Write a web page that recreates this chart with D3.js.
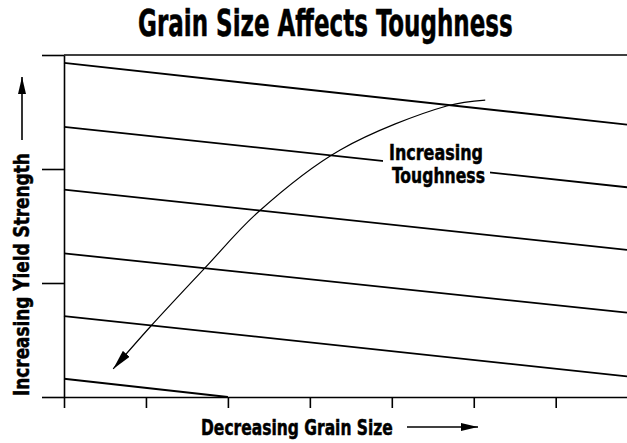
<!DOCTYPE html>
<meta charset="utf-8">
<script src="https://cdn.jsdelivr.net/npm/d3@7"></script>
<style>
body { margin: 0; background: #fff; }
text {
  font-family: "Liberation Sans Narrow", "DejaVu Sans Condensed", "Arial Narrow", sans-serif;
  font-weight: bold;
  fill: #000;
  stroke: #000;
  stroke-width: 0.5px;
}
.axis path, .axis line { stroke: #000; stroke-width: 1.6px; }
path.grain { fill: none; stroke: #000; stroke-width: 1.8px; }
</style>
<body>
<script>

// grain size lines (x in grain-size units, y in strength units)
var lineStart = [2.93, 2.37, 1.82, 1.26, 0.71, 0.16];
var lineEnd = [2.39, 1.84, 1.29, 0.74, 0.18, 0.0];
var lineEndX = [6.87, 6.87, 6.87, 6.87, 6.87, 2.0];

var xTicks = [0, 1, 2, 3, 4, 5, 6];
var yTicks = [0, 1, 2, 3];

// the curved "increasing toughness" arrow
var curveX = [5.14, 4.67, 3.37, 2.37, 1.72, 1.05, 0.60];
var curveY = [2.605, 2.553, 2.167, 1.623, 1.132, 0.614, 0.246];

var title = "Grain Size Affects Toughness";
var xLabel = "Decreasing Grain Size";
var yLabel = "Increasing Yield Strength";
var note = ["Increasing", "Toughness"];

var width = 627,
    height = 443;

var x = d3.scaleLinear().domain([0, 6.87]).range([64, 627]);
var y = d3.scaleLinear().domain([0, 3]).range([397, 55]);

var svg = d3.select("body").append("svg")
    .attr("width", width)
    .attr("height", height);

var defs = svg.append("defs");
function marker(id, len, wid) {
  defs.append("marker")
      .attr("id", id)
      .attr("viewBox", "0 0 " + len + " " + wid)
      .attr("refX", len)
      .attr("refY", wid / 2)
      .attr("markerUnits", "userSpaceOnUse")
      .attr("markerWidth", len)
      .attr("markerHeight", wid)
      .attr("orient", "auto")
    .append("path")
      .attr("d", "M0,0L" + len + "," + (wid / 2) + "L0," + wid + "Z")
      .attr("fill", "#000");
}
marker("head", 20, 9);
marker("headSmall", 17, 8);

// squeeze text horizontally to a target width (condensed look)
function fitText(sel, tx, ty, rot, w) {
  var len = sel.node().getComputedTextLength();
  var sx = w / len;
  sel.attr("transform", "translate(" + tx + "," + ty + ") rotate(" + rot + ") scale(" + sx + ",1)");
}

// axes
svg.append("g")
    .attr("class", "axis")
    .attr("transform", "translate(64,0)")
    .call(d3.axisLeft(y).tickValues(yTicks).tickSize(22).tickSizeOuter(0).tickFormat(""));

svg.append("g")
    .attr("class", "axis")
    .attr("transform", "translate(0,397)")
    .call(d3.axisBottom(x).tickValues(xTicks).tickSize(11).tickSizeOuter(0).tickFormat(""));

// top border
svg.append("line")
    .attr("x1", x(0)).attr("x2", x(6.87))
    .attr("y1", y(3)).attr("y2", y(3))
    .attr("stroke", "#000").attr("stroke-width", 1.6);

// grain lines
var lineData = lineStart.map(function(s, i) {
  return [[0, s], [lineEndX[i], lineEnd[i]]];
});
var line = d3.line().x(function(d) { return x(d[0]); }).y(function(d) { return y(d[1]); });

svg.append("g").selectAll("path")
    .data(lineData)
    .enter().append("path")
    .attr("class", "grain")
    .attr("d", line);

// note text with white background
var noteG = svg.append("g");
noteG.append("rect").attr("fill", "#fff")
    .attr("x", 383).attr("y", 140).attr("width", 107).attr("height", 50);
noteG.selectAll("text")
    .data(note)
    .enter().append("text")
    .attr("font-size", 22)
    .text(function(d) { return d; })
    .each(function(d, i) {
      fitText(d3.select(this), i ? 392 : 389, 160 + i * 23, 0, i ? 93 : 94);
    });

// curved arrow
var curvePts = curveX.map(function(v, i) { return [v, curveY[i]]; });
svg.append("path")
    .attr("d", d3.line().curve(d3.curveCatmullRom)
        .x(function(d) { return x(d[0]); })
        .y(function(d) { return y(d[1]); })(curvePts))
    .attr("fill", "none")
    .attr("stroke", "#000")
    .attr("stroke-width", 1.2)
    .attr("marker-end", "url(#head)");

// title
var t = svg.append("text")
    .attr("font-size", 37)
    .attr("stroke-width", 0.9)
    .text(title);
fitText(t, 138, 36, 0, 375);

// x label + arrow
var xl = svg.append("text")
    .attr("font-size", 22)
    .text(xLabel);
fitText(xl, 201, 435, 0, 192);
svg.append("line")
    .attr("x1", 407).attr("x2", 478)
    .attr("y1", 427).attr("y2", 427)
    .attr("stroke", "#000").attr("stroke-width", 1.6)
    .attr("marker-end", "url(#headSmall)");

// y label + arrow
var yl = svg.append("text")
    .attr("font-size", 22)
    .text(yLabel);
fitText(yl, 29, 396, -90, 243);
svg.append("line")
    .attr("x1", 22).attr("x2", 22)
    .attr("y1", 140).attr("y2", 77)
    .attr("stroke", "#000").attr("stroke-width", 1.6)
    .attr("marker-end", "url(#headSmall)");

</script>
</body>
